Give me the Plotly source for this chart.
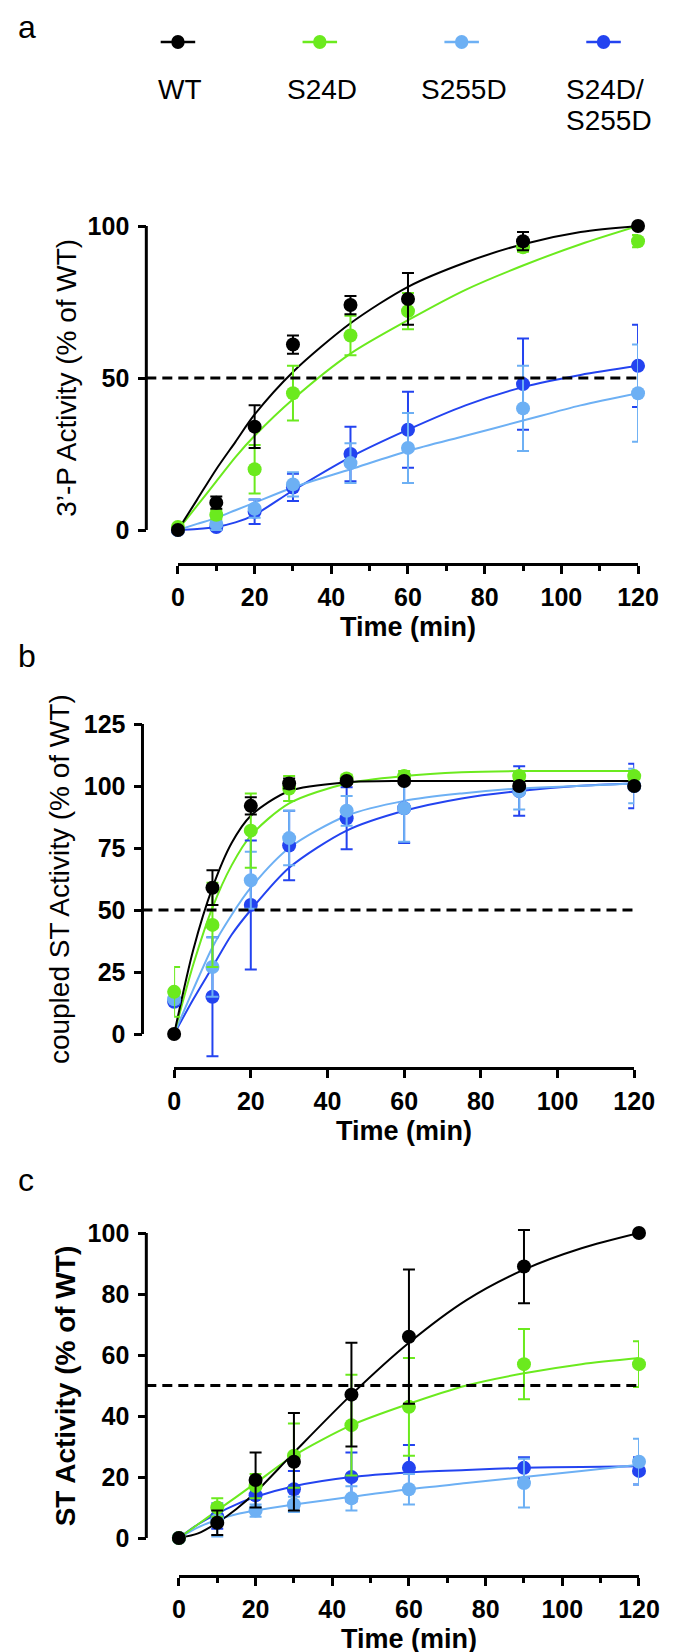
import plotly.graph_objects as go

W, H = 675, 1652

# ---- data -------------------------------------------------------------
time = [0, 10, 20, 30, 45, 60, 90, 120]
fit_t = [0, 5, 10, 15, 20, 30, 45, 60, 75, 90, 105, 120]
series = ["WT", "S24D", "S255D", "S24D/S255D"]
colors = {"WT": "#000000", "S24D": "#6BEA1E", "S255D": "#6DB0F4", "S24D/S255D": "#2343F0"}
threshold = 50

# panel a: 3'-P activity
a_mean = {"WT": [0, 9, 34, 61, 74, 76, 95, 100],
          "S24D": [1, 5, 20, 45, 64, 72, 93, 95],
          "S255D": [0, 2, 7, 15, 22, 27, 40, 45],
          "S24D/S255D": [0, 1, 6, 14, 25, 33, 48, 54]}
a_err = {"WT": [0, 2, 7, 3, 3, 8.5, 3, 0],
         "S24D": [0, 1.5, 8, 9, 6.5, 6, 1.5, 2],
         "S255D": [0, 2, 3, 4, 6.5, 11.5, 14, 16],
         "S24D/S255D": [0, 1, 4, 4.5, 9, 12.5, 15, 13.5]}
a_fit = {"WT": [0, 10, 20, 29, 38, 52, 68, 80, 88, 94, 98, 100],
         "S24D": [0, 8, 16, 24, 31, 43, 58, 69, 79, 87, 94, 100],
         "S255D": [0, 2, 4, 6.5, 9, 14, 20, 26, 31, 36, 41, 45],
         "S24D/S255D": [0, 0.3, 1, 2.5, 5, 13, 24, 33, 41, 47, 51, 54]}

# panel b: coupled ST activity
b_mean = {"WT": [0, 59, 92, 101, 102, 102, 100, 100],
          "S24D": [17, 44, 82, 99, 103, 104, 104, 104],
          "S255D": [14, 27, 62, 79, 90, 91, 98, 100],
          "S24D/S255D": [13, 15, 52, 76, 87, 91, 98, 100]}
b_err = {"WT": [0, 7, 3.5, 2, 1, 1, 1, 1],
         "S24D": [10, 17, 15, 5, 1.5, 2, 1.5, 1.5],
         "S255D": [1, 12, 11.5, 11, 6, 13.5, 7.5, 7],
         "S24D/S255D": [1, 24, 26, 14, 12.5, 14, 10, 9]}
b_fit = {"WT": [0, 34, 59, 77, 88, 98, 101.5, 102, 102, 102, 102, 102],
         "S24D": [0, 28, 51, 68, 80, 93, 101, 104, 105.5, 106, 106, 106],
         "S255D": [0, 18, 35, 48, 59, 75, 88, 94, 97, 99, 100, 101],
         "S24D/S255D": [0, 14, 27, 40, 50, 67, 82, 90, 95, 98, 100, 101]}

# panel c: ST activity
c_mean = {"WT": [0, 5, 19, 25, 47, 66, 89, 100],
          "S24D": [0, 10, 17, 27, 37, 43, 57, 57],
          "S255D": [0, 6, 9, 11, 13, 16, 18, 25],
          "S24D/S255D": [0, 7, 14, 16, 20, 23, 23, 22]}
c_err = {"WT": [0, 4, 9, 16, 17, 22, 12, 0],
         "S24D": [0, 3, 4, 10.5, 16.5, 16, 11.5, 7.5],
         "S255D": [0, 5.5, 2, 2.5, 4, 5, 8, 7.5],
         "S24D/S255D": [0, 4, 4, 6, 8, 7.5, 3.5, 4.5]}
c_fit = {"WT": [0, 1.5, 5, 9.5, 15, 28, 47, 64, 78, 88, 95, 100],
         "S24D": [0, 4.5, 9, 13.5, 18, 27, 37, 44, 50, 54, 57, 59],
         "S255D": [0, 3.5, 6, 7.8, 9, 11, 13.5, 16, 18, 20, 22, 24],
         "S24D/S255D": [0, 4.5, 8, 11, 13.5, 17, 20, 21.5, 22.3, 23, 23.3, 23.5]}

# ---- layout geometry (pixels) ----------------------------------------
panels = [
    dict(mean=a_mean, err=a_err, fit=a_fit, ymax=100, dtick=50, minor=True,
         ytop=218, y0=522, yax=137, x0=170, x1=650, xline=556,
         title="3’-P Activity (% of WT)", tbold=False, tx=53, letter="a", ly=0),
    dict(mean=b_mean, err=b_err, fit=b_fit, ymax=125, dtick=25, minor=False,
         ytop=716, y0=1026, yax=133, x0=166, x1=646, xline=1060,
         title="coupled ST Activity (% of WT)", tbold=False, tx=46, letter="b", ly=629),
    dict(mean=c_mean, err=c_err, fit=c_fit, ymax=100, dtick=20, minor=True,
         ytop=1225, y0=1530, yax=137, x0=171, x1=651, xline=1568,
         title="ST Activity (% of WT)", tbold=True, tx=53, letter="c", ly=1153),
]

FONT = "Liberation Sans, Arial, sans-serif"
PAD = 26  # extra pixels of plot area above/below the drawn axis line


def px(x):
    return x / W


def py(y):
    return 1 - y / H


fig = go.Figure()
layout = {}
shapes = []
annotations = []
draw_order = ["S24D/S255D", "S255D", "S24D", "WT"]

for i, p in enumerate(panels):
    n = "" if i == 0 else str(i + 1)
    xa, ya = "x" + n, "y" + n
    for s in draw_order:
        fig.add_trace(go.Scatter(
            x=fit_t, y=p["fit"][s], xaxis=xa, yaxis=ya, mode="lines",
            line=dict(color=colors[s], width=2, shape="spline", smoothing=0.8),
            cliponaxis=False, showlegend=False, hoverinfo="skip"))
    for s in draw_order:
        fig.add_trace(go.Scatter(
            x=time, y=p["mean"][s], xaxis=xa, yaxis=ya, mode="markers",
            marker=dict(color=colors[s], size=14, line=dict(width=0)),
            error_y=dict(type="data", array=p["err"][s], visible=True,
                         color=colors[s], thickness=2, width=6),
            cliponaxis=False, showlegend=False, name=s))

    k = (p["y0"] - p["ytop"]) / p["ymax"]  # px per unit
    ypad = PAD / k

    xaxis = dict(domain=[px(p["x0"]), px(p["x1"])], anchor="free", position=py(p["xline"]),
                 range=[0, 120], tick0=0, dtick=20, ticks="outside", ticklen=8, tickwidth=3,
                 showline=True, linewidth=3, linecolor="black", tickcolor="black",
                 showgrid=False, zeroline=False, ticklabelstandoff=2,
                 tickfont=dict(family=FONT, size=25, color="black", weight="bold"))
    if p["minor"]:
        xaxis["minor"] = dict(dtick=10, tick0=0, ticks="outside", ticklen=5,
                              tickwidth=3, tickcolor="black", showgrid=False)
    yaxis = dict(domain=[py(p["y0"] + PAD), py(p["ytop"] - PAD)], anchor="free",
                 position=px(p["yax"]), range=[-ypad, p["ymax"] + ypad],
                 tick0=0, dtick=p["dtick"], ticks="outside",
                 ticklen=8, tickwidth=3, showline=False,
                 tickcolor="black", showgrid=False, zeroline=False, ticklabelstandoff=4,
                 tickfont=dict(family=FONT, size=25, color="black", weight="bold"))
    layout["xaxis" + n] = xaxis
    layout["yaxis" + n] = yaxis

    # y axis line only from 0 to the top tick
    shapes.append(dict(type="line", xref="paper", yref=ya, x0=px(p["yax"]), x1=px(p["yax"]),
                       y0=0, y1=p["ymax"], line=dict(color="black", width=3)))
    # dashed 50 % line
    shapes.append(dict(type="line", xref="paper", yref=ya, x0=px(p["yax"]), x1=px(p["x1"]),
                       y0=threshold, y1=threshold,
                       line=dict(color="black", width=3, dash="10px,6px")))

    # axis titles
    annotations.append(dict(text="Time (min)", xref="paper", yref="paper",
                            x=px((p["x0"] + p["x1"]) / 2), y=py(p["xline"] + 63),
                            xanchor="center", yanchor="middle", showarrow=False,
                            font=dict(family=FONT, size=27, color="black", weight="bold")))
    annotations.append(dict(text=p["title"], xref="paper", yref="paper", textangle=-90,
                            x=px(p["tx"]), y=py((p["ytop"] + p["y0"]) / 2),
                            xanchor="center", yanchor="middle", showarrow=False,
                            font=dict(family=FONT, size=28, color="black",
                                      weight="bold" if p["tbold"] else "normal")))
    # panel letter, box top at ly
    annotations.append(dict(text=p["letter"], xref="paper", yref="paper",
                            x=px(2), y=py(p["ly"]), xanchor="left", yanchor="top",
                            borderpad=0, showarrow=False,
                            font=dict(family=FONT, size=32, color="black")))

# ---- legend (drawn by hand, text under the symbols) -------------------
leg_y = 34
for i, s in enumerate(series):
    cx = 170 + 148 * i
    shapes.append(dict(type="line", xref="paper", yref="paper",
                       x0=px(cx - 18), x1=px(cx + 18), y0=py(leg_y), y1=py(leg_y),
                       line=dict(color=colors[s], width=2.5)))
    shapes.append(dict(type="circle", xref="paper", yref="paper",
                       x0=px(cx - 7), x1=px(cx + 7), y0=py(leg_y - 7), y1=py(leg_y + 7),
                       fillcolor=colors[s], line=dict(width=0)))
    if "/" in s:
        first, second = s.split("/")
        annotations.append(dict(text=first + "/", xref="paper", yref="paper",
                                x=px(cx - 41), y=py(82), xanchor="left", yanchor="middle",
                                showarrow=False, font=dict(family=FONT, size=28, color="black")))
        annotations.append(dict(text=second, xref="paper", yref="paper",
                                x=px(cx - 41), y=py(113), xanchor="left", yanchor="middle",
                                showarrow=False, font=dict(family=FONT, size=28, color="black")))
    else:
        annotations.append(dict(text=s, xref="paper", yref="paper",
                                x=px(cx + 2), y=py(82), xanchor="center", yanchor="middle",
                                showarrow=False, font=dict(family=FONT, size=28, color="black")))

fig.update_layout(
    width=W, height=H,
    margin=dict(l=0, r=0, t=0, b=0),
    paper_bgcolor="white", plot_bgcolor="white",
    showlegend=False,
    shapes=shapes,
    annotations=annotations,
    **layout
)

fig.write_html("out.html")
